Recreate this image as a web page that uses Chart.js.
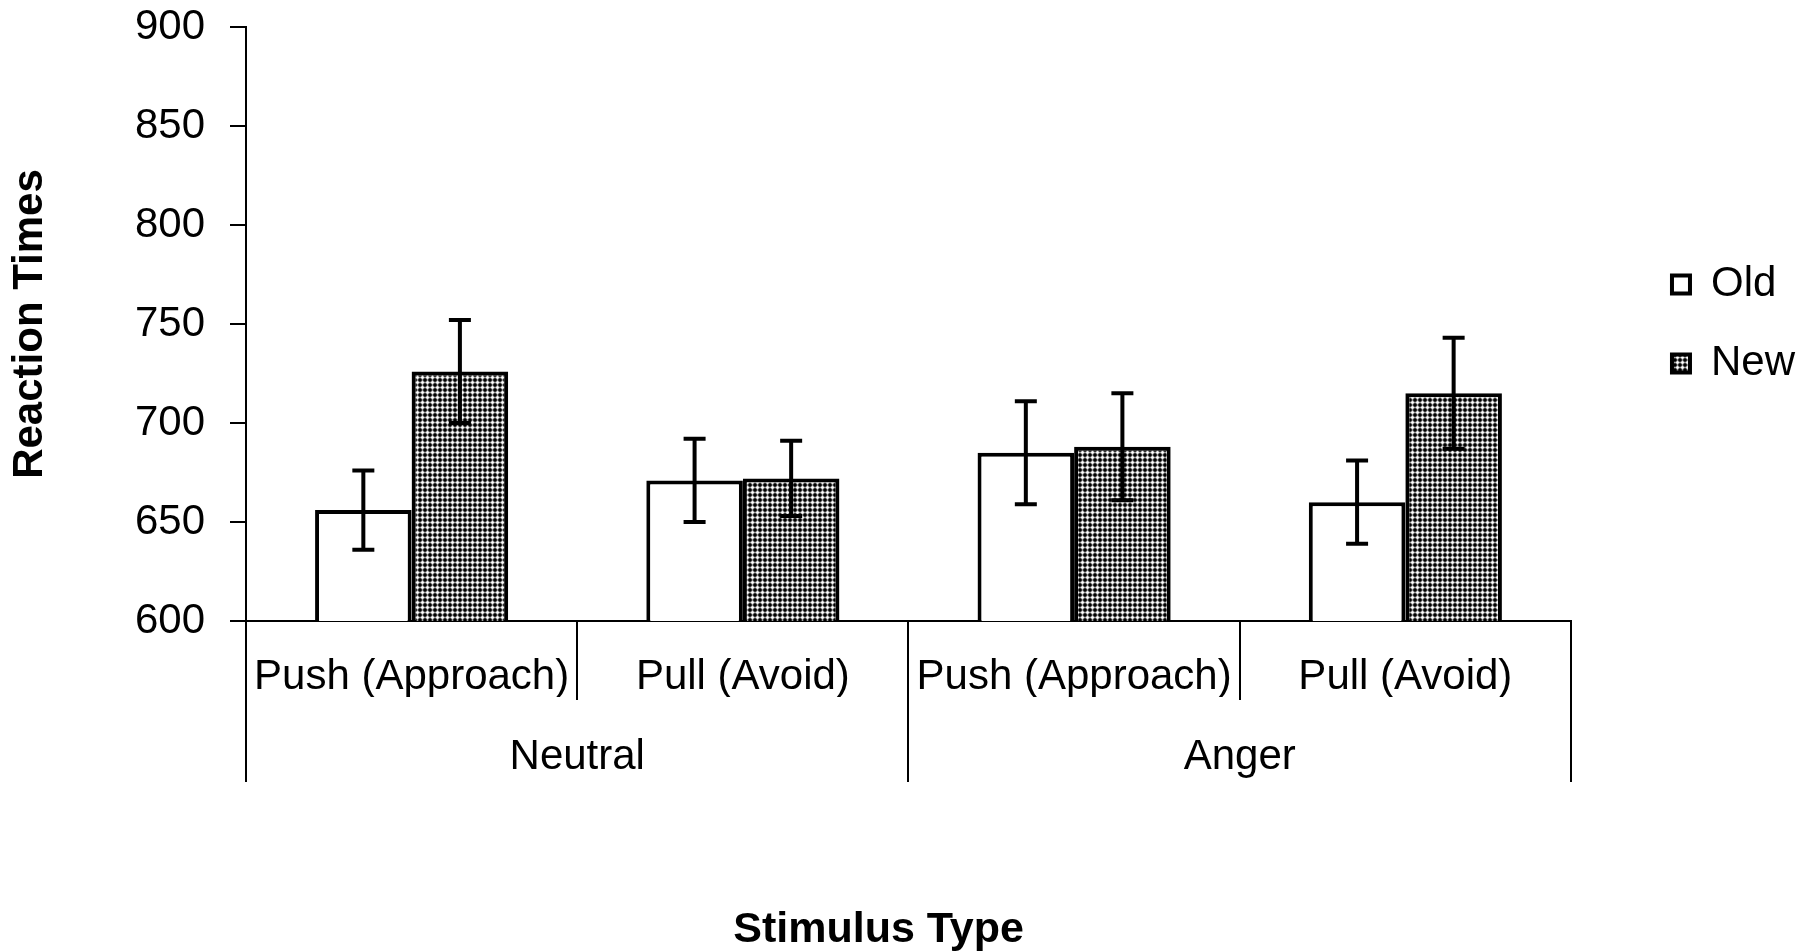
<!DOCTYPE html>
<html>
<head>
<meta charset="utf-8">
<title>Reaction Times</title>
<script src="https://cdn.jsdelivr.net/npm/chart.js@4.4.1/dist/chart.umd.min.js"></script>
<style>
  html, body { margin: 0; padding: 0; background: #fff; }
  #wrap { width: 1798px; height: 952px; }
</style>
</head>
<body>
<div id="wrap"><canvas id="rt" width="1798" height="952"></canvas></div>
<script>
// data
var categories = ['Push (Approach)', 'Pull (Avoid)', 'Push (Approach)', 'Pull (Avoid)'];
var groups = ['Neutral', 'Anger'];
var oldValues = [656, 671, 685, 660];
var newValues = [726, 672, 688, 715];
var oldErrors = [20, 21, 26, 21];
var newErrors = [26, 19, 27, 28];
var yTicks = [600, 650, 700, 750, 800, 850, 900];

var FONT = "'Liberation Sans', Arial, sans-serif";

// dotted grey fill for the "New" bars (white diamonds on a dark lattice)
function makePattern() {
  var c = document.createElement('canvas');
  c.width = 5; c.height = 5;
  var g = c.getContext('2d');
  var shades = ['#ffffff', '#f0f0f0', '#a0a0a0', '#333333', '#000000'];
  for (var x = 0; x < 5; x++) {
    for (var y = 0; y < 5; y++) {
      var d = Math.abs(x - 2) + Math.abs(y - 2);
      g.fillStyle = shades[d];
      g.fillRect(x, y, 1, 1);
    }
  }
  return g.createPattern(c, 'repeat');
}

var errorBars = {
  id: 'errorBars',
  afterDatasetsDraw: function(chart) {
    var ctx = chart.ctx;
    var yScale = chart.scales.y;
    ctx.save();
    ctx.strokeStyle = '#000';
    ctx.lineWidth = 4;
    chart.data.datasets.forEach(function(ds, di) {
      var meta = chart.getDatasetMeta(di);
      meta.data.forEach(function(bar, i) {
        var v = ds.data[i], e = ds.errors[i];
        var top = yScale.getPixelForValue(v + e);
        var bot = yScale.getPixelForValue(v - e);
        var x = bar.x;
        ctx.beginPath();
        ctx.moveTo(x, top); ctx.lineTo(x, bot);
        ctx.moveTo(x - 11, top); ctx.lineTo(x + 11, top);
        ctx.moveTo(x - 11, bot); ctx.lineTo(x + 11, bot);
        ctx.stroke();
      });
    });
    ctx.restore();
  }
};

var ctx = document.getElementById('rt').getContext('2d');
var chart = new Chart(ctx, {
  type: 'bar',
  data: {
    labels: categories,
    datasets: [{
      label: 'Old',
      data: oldValues,
      errors: oldErrors,
      backgroundColor: '#ffffff',
      borderColor: '#000000',
      borderWidth: 4,
      borderSkipped: false
    }, {
      label: 'New',
      data: newValues,
      errors: newErrors,
      backgroundColor: makePattern(),
      borderColor: '#000000',
      borderWidth: 4,
      borderSkipped: false
    }]
  },
  options: {
    responsive: false,
    animation: false,
    categoryPercentage: 0.583,
    barPercentage: 1.0,
    layout: { padding: { top: 27, left: 0, right: -7, bottom: 0 } },
    plugins: {
      tooltip: { enabled: false },
      legend: {
        position: 'right',
        fullSize: false,
        labels: {
          color: '#000',
          font: { family: FONT, size: 42 },
          boxWidth: 18,
          boxHeight: 18,
          padding: 37
        }
      }
    },
    scales: {
      y: {
        min: 600,
        max: 900,
        afterBuildTicks: function(s) { s.ticks = yTicks.map(function(v) { return { value: v }; }); },
        afterFit: function(s) { s.width = 246; s.paddingTop = 0; s.paddingBottom = 0; },
        grid: { drawOnChartArea: false, color: '#000', lineWidth: 2, tickLength: 16 },
        border: { color: '#000', width: 2 },
        ticks: { color: '#000', padding: 25, font: { family: FONT, size: 42 } },
        title: {
          display: true,
          text: 'Reaction Times',
          color: '#000',
          font: { family: FONT, size: 42, weight: 'bold' },
          padding: { top: 5, bottom: 0 }
        }
      },
      yPad: {
        position: 'right',
        type: 'linear',
        afterFit: function(s) { s.width = 64; },
        grid: { display: false },
        border: { display: false },
        ticks: { display: false }
      },
      x: {
        type: 'category',
        position: 'bottom',
        weight: 0,
        offset: true,
        afterFit: function(s) { s.height = 76; },
        grid: { offset: true, drawOnChartArea: false, color: '#000', lineWidth: 2, tickLength: 79 },
        border: { color: '#000', width: 2 },
        ticks: { color: '#000', padding: -48, autoSkip: false, maxRotation: 0, font: { family: FONT, size: 42 } }
      },
      x2: {
        type: 'category',
        position: 'bottom',
        weight: 1,
        labels: groups,
        offset: true,
        afterFit: function(s) { s.height = 255; },
        grid: { offset: true, drawOnChartArea: false, color: '#000', lineWidth: 2, tickLength: 85 },
        border: { display: false },
        ticks: { color: '#000', padding: -50, autoSkip: false, maxRotation: 0, font: { family: FONT, size: 42 } },
        title: {
          display: true,
          text: 'Stimulus Type     ',
          color: '#000',
          font: { family: FONT, size: 43, weight: 'bold' },
          padding: { top: 127, bottom: -4 }
        }
      }
    }
  },
  plugins: [errorBars]
});
</script>
</body>
</html>
